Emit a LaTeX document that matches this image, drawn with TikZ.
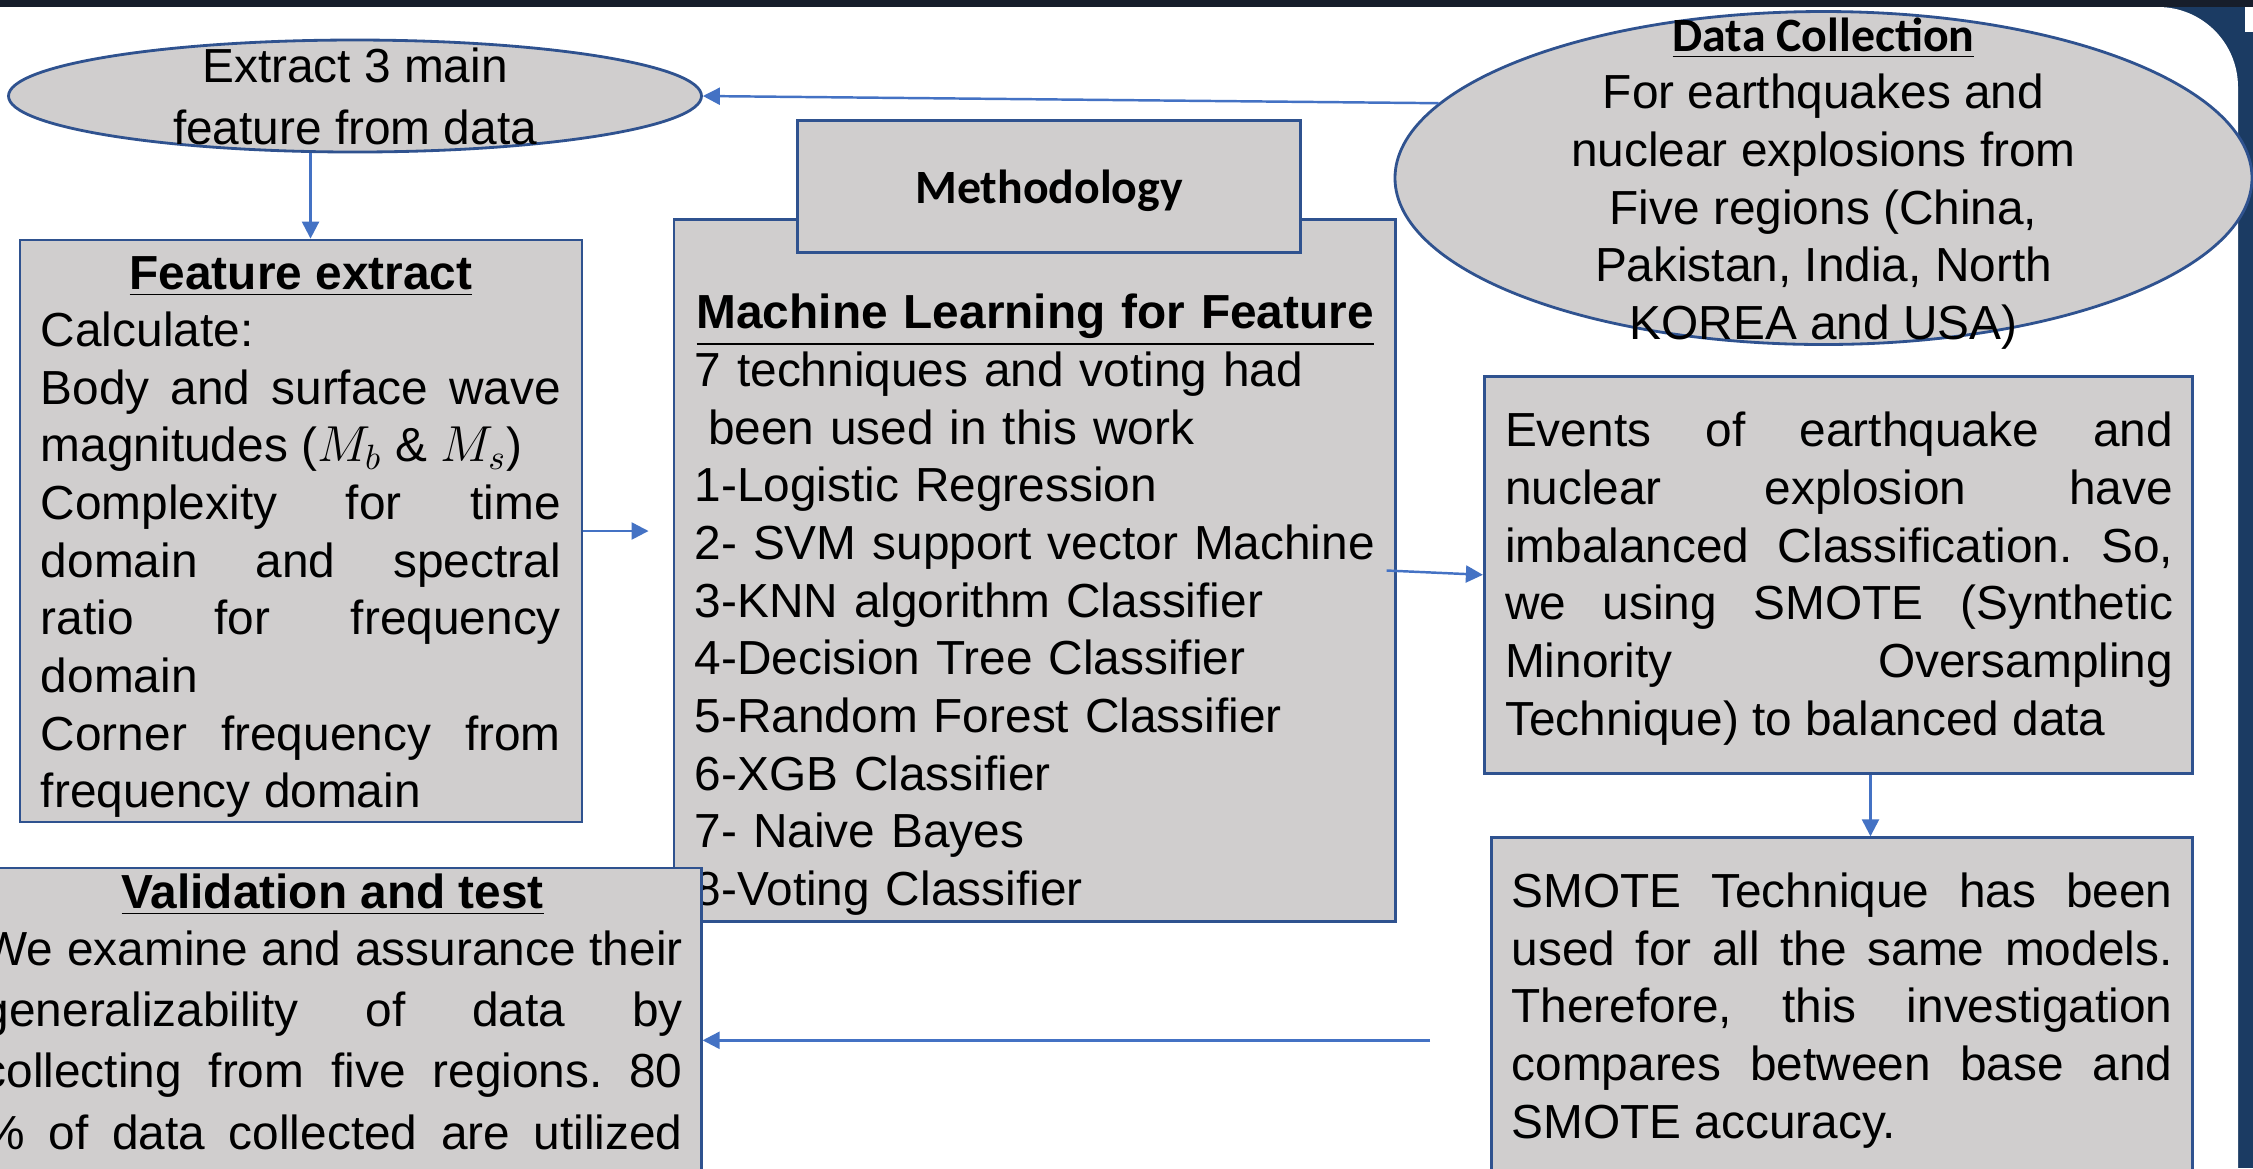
\documentclass[tikz,border=0pt]{standalone}
\usepackage{fontspec}
\setmainfont{Liberation Sans}
\newfontfamily\carlito{Carlito}
\usetikzlibrary{arrows.meta,shapes.geometric}
\definecolor{boxfill}{HTML}{D0CECE}
\definecolor{boxline}{HTML}{2F528F}
\definecolor{arrowblue}{HTML}{4472C4}
\definecolor{slideblue}{HTML}{1B3B63}
\definecolor{slidetop}{HTML}{171E2B}
\newcommand{\nohyph}{\frenchspacing\hyphenpenalty=10000 \exhyphenpenalty=10000 \tolerance=10000 }
\newcommand{\bodyfont}{\fontsize{13.6}{16.4}\selectfont\nohyph}
\newcommand{\valfont}{\fontsize{13.6}{17.4}\selectfont\nohyph}

\begin{document}
\begin{tikzpicture}[y=-1cm,
  block/.style={draw=boxline,line width=0.8pt,fill=boxfill,inner sep=0pt,font=\bodyfont},
  oval/.style={block,ellipse},
  txt/.style={inner sep=0pt,font=\bodyfont},
  arr/.style={draw=arrowblue,line width=0.7pt,-{Triangle[length=1.7mm,width=1.7mm]}}]
\useasboundingbox (0,0) rectangle (22.53,11.68);
\clip (0,0) rectangle (22.53,11.68);
\fill[slideblue] (0,0) rectangle (22.53,11.68);
\fill[slidetop] (0,0) rectangle (22.53,0.07);
\fill[white,rounded corners=0.8cm] (-1,13) |- (22.38,0.07) -- (22.38,13) -- cycle;
\fill[white] (22.45,0.07) rectangle (22.53,0.32);

\node[oval,minimum width=6.93cm,minimum height=1.12cm] (extract) at (3.55,0.96) {};
\node[txt,align=center,font=\fontsize{13.6}{17.6}\selectfont] (extracttext) at (extract) {Extract 3 main\\feature from data};

\node[oval,minimum width=8.57cm,minimum height=3.33cm] (data) at (18.235,1.78) {};
\node[txt,align=center] (datatext) at (18.235,1.835) {{\carlito\bfseries\underline{Data Collection}}\\For earthquakes and\\nuclear explosions from\\Five regions (China,\\Pakistan, India, North\\KOREA and USA)};

\node[block,minimum width=5.62cm,minimum height=5.82cm] (fe) at (3.01,5.31) {};
\node[txt,text width=5.2cm,align=justify,anchor=base west] (fetext) at (0.402,2.89) {\centerline{\bfseries\underline{Feature extract}}\par
Calculate:\par
Body and surface wave\linebreak magnitudes ($M_b$ \& $M_s$)\par
Complexity for time\linebreak domain and spectral\linebreak ratio for frequency\linebreak domain\par
Corner frequency from\linebreak frequency domain};

\node[block,minimum width=7.213cm,minimum height=7.013cm] (ml) at (10.346,5.705) {};
\node[txt,text width=6.81cm,align=left,anchor=base west] (mltext) at (6.94,3.289) {\centerline{\bfseries\underline{Machine Learning for Feature}}\par
7 techniques and voting had\\\hspace*{0.28em}been used in this work\\1-Logistic Regression\\2- SVM support vector Machine\\3-KNN algorithm Classifier\\4-Decision Tree Classifier\\5-Random Forest Classifier\\6-XGB Classifier\\7- Naive Bayes\\8-Voting Classifier};
\node[block,minimum width=5.03cm,minimum height=1.32cm,text height=0.43cm,text depth=0.1cm,font=\bodyfont\carlito\bfseries] (meth) at (10.49,1.868) {Methodology};

\node[block,minimum width=7.084cm,minimum height=3.966cm] (ev) at (18.385,5.748) {};
\node[txt,text width=6.68cm,align=justify,anchor=base west] (evtext) at (15.044,4.468) {Events of earthquake and\linebreak nuclear explosion have\linebreak imbalanced Classification. So,\linebreak we using SMOTE (Synthetic\linebreak Minority Oversampling\linebreak Technique) to balanced data};

\node[block,minimum width=7.012cm,minimum height=3.456cm,text width=6.61cm,align=justify] (sm) at (18.421,10.105) {SMOTE Technique has been\linebreak used for all the same models.\linebreak Therefore, this investigation\linebreak compares between base and\linebreak SMOTE accuracy.};

\node[block,minimum width=7.372cm,minimum height=3.448cm] (val) at (3.326,10.403) {};
\node[txt,text width=7cm,align=justify,anchor=base west,font=\valfont] (valtext) at (-0.18,9.08) {\centerline{\bfseries\underline{Validation and test}}\par\vspace{-1pt}
{\parfillskip=0pt We examine and assurance their\linebreak generalizability of data by\linebreak collecting from five regions. 80\linebreak \% of data collected are utilized\par}};

\draw[arr] (data.169) -- (extract.east);
\draw[arr] (extract.232) -- (extract.232 |- fe.north);
\draw[arr,shorten >=2.4mm] (fe.east) -- (fe.east -| ml.west);
\draw[arr] ([xshift=-1mm]ml.east) -- (ev.west);
\draw[arr] ([xshift=3.2mm]ev.south) -- ([xshift=3.2mm]ev.south |- sm.north);
\coordinate (valin) at (14.3,10.403);
\draw[arr] (valin) -- (val.east);
\end{tikzpicture}
\end{document}
